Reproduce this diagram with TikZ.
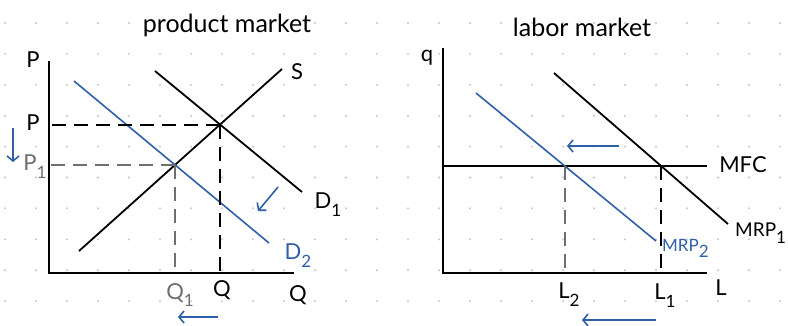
\documentclass[tikz,border=0pt]{standalone}
\usepackage{fontspec}
\setmainfont{Lato}
\usetikzlibrary{arrows.meta, positioning}
\definecolor{mkblue}{HTML}{2F5FA7}
\definecolor{mkgray}{HTML}{6E6E6E}
\definecolor{mkdot}{HTML}{CFCFCF}
\newcommand{\lowsub}[1]{\raisebox{-0.7ex}{\fontsize{17}{17}\selectfont #1}}

\begin{document}
\begin{tikzpicture}[x=1pt, y=-1pt,
  axis/.style={line width=2.6pt},
  curve/.style={line width=1.8pt},
  guide/.style={line width=2pt, dash pattern=on 14pt off 8pt},
  shiftarr/.style={line width=1.6pt, draw=mkblue, -{Straight Barb[length=5pt,width=12pt]}},
  lbl/.style={font=\fontsize{22}{23}\selectfont, inner sep=0pt},
  title/.style={font=\fontsize{25}{26}\selectfont, inner sep=0pt},
]
  \useasboundingbox (0,0) rectangle (788,325);
  % dot grid
  \foreach \i in {0,...,25}
    \foreach \j in {0,...,9}
      \fill[mkdot] ({5+31*\i},{23+30.9*\j}) circle (1.3pt);

  % product market
  \node[title] (pmtitle) at (227,25) {product market};
  \coordinate (ytop1) at (49,61);
  \coordinate (o1) at (49,273);
  \coordinate (xend1) at (294,273);
  \draw[axis] (ytop1) -- (o1) -- (xend1);
  \coordinate (s0) at (79,251);
  \coordinate (s1) at (282,69);
  \coordinate (da0) at (155,71);
  \coordinate (da1) at (302,192);
  \coordinate (db0) at (74,81);
  \coordinate (db1) at (269,243);
  \draw[curve] (s0) -- (s1);
  \draw[curve] (da0) -- (da1);
  \draw[curve, mkblue, line width=1.6pt] (db0) -- (db1);
  \coordinate (e1) at (intersection of s0--s1 and da0--da1);
  \coordinate (e2) at (intersection of s0--s1 and db0--db1);
  \draw[guide] (e1) -- (e1 -| o1);
  \draw[guide] (e1) -- (e1 |- o1);
  \draw[guide, mkgray] (e2) -- (e2 -| o1);
  \draw[guide, mkgray] (e2) -- (e2 |- o1);

  \node[lbl] (paxis) at (33,60) {P};
  \node[lbl] (pval) at (33,123) {P};
  \node[lbl, mkgray] (p1val) at (35,167) {P\lowsub{1}};
  \node[lbl] (slbl) at (297,72) {S};
  \node[lbl] (d1lbl) at (328,205) {D\lowsub{1}};
  \node[lbl, mkblue] (d2lbl) at (298,256) {D\lowsub{2}};
  \node[lbl, mkgray] (q1val) at (180,295) {Q\lowsub{1}};
  \node[lbl] (qval) at (222,290) {Q};
  \node[lbl] (qaxis) at (298,295) {Q};

  \coordinate (pa0) at (13,128);
  \coordinate (pa1) at (13,162);
  \draw[shiftarr] (pa0) -- (pa1);
  \coordinate (qa0) at (218,317);
  \coordinate (qa1) at (178,317);
  \draw[shiftarr] (qa0) -- (qa1);
  \coordinate (da2) at (278,187);
  \coordinate (da3) at (258,211);
  \draw[shiftarr] (da2) -- (da3);

  % labor market
  \node[title] (lmtitle) at (582,27) {labor market};
  \coordinate (ytop2) at (443,48);
  \coordinate (o2) at (443,273);
  \coordinate (xend2) at (707,273);
  \draw[axis] (ytop2) -- (o2) -- (xend2);
  \coordinate (mfc0) at (443,166);
  \coordinate (mfc1) at (707,166);
  \coordinate (ma0) at (554,73);
  \coordinate (ma1) at (728,224);
  \coordinate (mb0) at (476,93);
  \coordinate (mb1) at (656,241);
  \draw[curve] (mfc0) -- (mfc1);
  \draw[curve] (ma0) -- (ma1);
  \draw[curve, mkblue, line width=1.6pt] (mb0) -- (mb1);
  \coordinate (l1pt) at (intersection of mfc0--mfc1 and ma0--ma1);
  \coordinate (l2pt) at (intersection of mfc0--mfc1 and mb0--mb1);
  \draw[guide] (l1pt) -- (l1pt |- o2);
  \draw[guide, mkgray] (l2pt) -- (l2pt |- o2);

  \node[lbl] (qlbl) at (427,58) {q};
  \node[lbl] (mfclbl) at (743,165) {MFC};
  \node[lbl, anchor=west, font=\fontsize{19}{20}\selectfont] (mrp1lbl) at (735,233) {MRP\lowsub{1}};
  \node[lbl, anchor=west, mkblue, font=\fontsize{17}{18}\selectfont] (mrp2lbl) at (662,248) {MRP\lowsub{2}};
  \node[lbl] (l2val) at (569,295) {L\lowsub{2}};
  \node[lbl] (l1val) at (665,296) {L\lowsub{1}};
  \node[lbl] (laxis) at (721,288) {L};

  \coordinate (wa0) at (619,146);
  \coordinate (wa1) at (567,146);
  \draw[shiftarr] (wa0) -- (wa1);
  \coordinate (la0) at (656,320);
  \coordinate (la1) at (582,320);
  \draw[shiftarr] (la0) -- (la1);
\end{tikzpicture}
\end{document}
